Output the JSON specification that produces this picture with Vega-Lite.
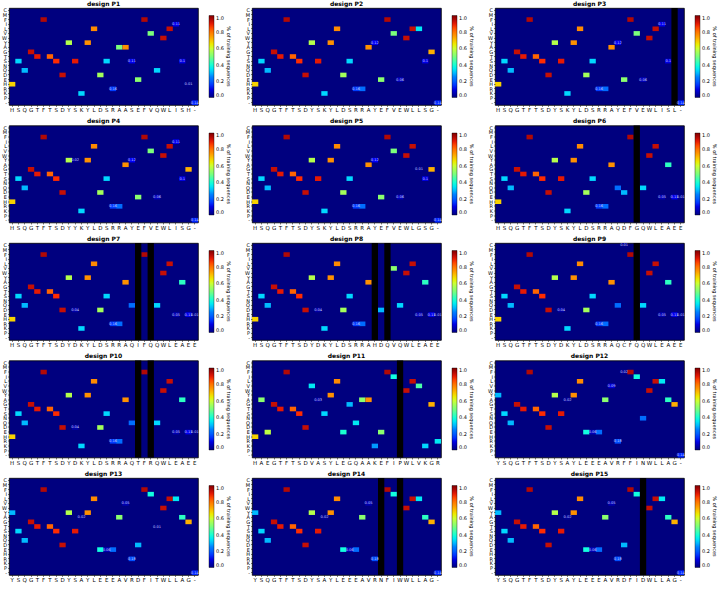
{
"$schema":"https://vega.github.io/schema/vega-lite/v6.json",
"padding":{"left":1,"top":0,"right":0,"bottom":0},
"data":{"values":[
{"p":"P1","s":"00H","aa":"H","v":0.68},{"p":"P1","s":"01S","aa":"S","v":0.33},{"p":"P1","s":"02Q","aa":"Q","v":0.3},{"p":"P1","s":"03G","aa":"G","v":0.93},{"p":"P1","s":"04T","aa":"T","v":0.9},{"p":"P1","s":"05F","aa":"F","v":0.95},{"p":"P1","s":"06T","aa":"T","v":0.82},{"p":"P1","s":"07S","aa":"S","v":0.87},{"p":"P1","s":"08D","aa":"D","v":0.93},{"p":"P1","s":"09Y","aa":"Y","v":0.57},{"p":"P1","s":"10S","aa":"S","v":0.9},{"p":"P1","s":"11K","aa":"K","v":0.33},{"p":"P1","s":"12Y","aa":"Y","v":0.76},{"p":"P1","s":"13L","aa":"L","v":0.77},{"p":"P1","s":"14D","aa":"D","v":0.55},{"p":"P1","s":"15S","aa":"S","v":0.33},
{"p":"P1","s":"16R","aa":"R","v":0.16},{"p":"P1","s":"17A","aa":"A","v":0.5},{"p":"P1","s":"18A","aa":"A","v":0.76},{"p":"P1","s":"19S","aa":"S","v":0.11},{"p":"P1","s":"20E","aa":"E","v":0.52},{"p":"P1","s":"21F","aa":"F","v":0.95},{"p":"P1","s":"22V","aa":"V","v":0.5},{"p":"P1","s":"23Q","aa":"Q","v":0.33},{"p":"P1","s":"24W","aa":"W","v":0.93},{"p":"P1","s":"25L","aa":"L","v":0.93},{"p":"P1","s":"26I","aa":"I","v":0.11},{"p":"P1","s":"27S","aa":"S","v":0.1},{"p":"P1","s":"28H","aa":"H","v":0.01},{"p":"P1","s":"29-","aa":"-","v":0.14},
{"p":"P2","s":"00H","aa":"H","v":0.68},{"p":"P2","s":"01S","aa":"S","v":0.33},{"p":"P2","s":"02Q","aa":"Q","v":0.3},{"p":"P2","s":"03G","aa":"G","v":0.93},{"p":"P2","s":"04T","aa":"T","v":0.9},{"p":"P2","s":"05F","aa":"F","v":0.95},{"p":"P2","s":"06T","aa":"T","v":0.82},{"p":"P2","s":"07S","aa":"S","v":0.87},{"p":"P2","s":"08D","aa":"D","v":0.93},{"p":"P2","s":"09Y","aa":"Y","v":0.57},{"p":"P2","s":"10S","aa":"S","v":0.9},{"p":"P2","s":"11K","aa":"K","v":0.33},{"p":"P2","s":"12Y","aa":"Y","v":0.76},{"p":"P2","s":"13L","aa":"L","v":0.77},{"p":"P2","s":"14D","aa":"D","v":0.55},{"p":"P2","s":"15S","aa":"S","v":0.33},
{"p":"P2","s":"16R","aa":"R","v":0.16},{"p":"P2","s":"17R","aa":"R","v":0.22},{"p":"P2","s":"18A","aa":"A","v":0.76},{"p":"P2","s":"19Y","aa":"Y","v":0.12},{"p":"P2","s":"20E","aa":"E","v":0.52},{"p":"P2","s":"21F","aa":"F","v":0.95},{"p":"P2","s":"22V","aa":"V","v":0.5},{"p":"P2","s":"23E","aa":"E","v":0.06},{"p":"P2","s":"24W","aa":"W","v":0.93},{"p":"P2","s":"25L","aa":"L","v":0.93},{"p":"P2","s":"26L","aa":"L","v":0.35},{"p":"P2","s":"27S","aa":"S","v":0.1},{"p":"P2","s":"28G","aa":"G","v":0.72},{"p":"P2","s":"29-","aa":"-","v":0.14},
{"p":"P3","s":"00H","aa":"H","v":0.68},{"p":"P3","s":"01S","aa":"S","v":0.33},{"p":"P3","s":"02Q","aa":"Q","v":0.3},{"p":"P3","s":"03G","aa":"G","v":0.93},{"p":"P3","s":"04T","aa":"T","v":0.9},{"p":"P3","s":"05F","aa":"F","v":0.95},{"p":"P3","s":"06T","aa":"T","v":0.82},{"p":"P3","s":"07S","aa":"S","v":0.87},{"p":"P3","s":"08D","aa":"D","v":0.93},{"p":"P3","s":"09Y","aa":"Y","v":0.57},{"p":"P3","s":"10S","aa":"S","v":0.9},{"p":"P3","s":"11K","aa":"K","v":0.33},{"p":"P3","s":"12Y","aa":"Y","v":0.76},{"p":"P3","s":"13L","aa":"L","v":0.77},{"p":"P3","s":"14D","aa":"D","v":0.55},{"p":"P3","s":"15S","aa":"S","v":0.33},
{"p":"P3","s":"16R","aa":"R","v":0.16},{"p":"P3","s":"17R","aa":"R","v":0.22},{"p":"P3","s":"18A","aa":"A","v":0.76},{"p":"P3","s":"19Y","aa":"Y","v":0.12},{"p":"P3","s":"20E","aa":"E","v":0.52},{"p":"P3","s":"21F","aa":"F","v":0.95},{"p":"P3","s":"22V","aa":"V","v":0.5},{"p":"P3","s":"23E","aa":"E","v":0.06},{"p":"P3","s":"24W","aa":"W","v":0.93},{"p":"P3","s":"25L","aa":"L","v":0.93},{"p":"P3","s":"26I","aa":"I","v":0.11},{"p":"P3","s":"27S","aa":"S","v":0.1},{"p":"P3","s":"28L","aa":"L","v":null},{"p":"P3","s":"29-","aa":"-","v":0.14},
{"p":"P4","s":"00H","aa":"H","v":0.68},{"p":"P4","s":"01S","aa":"S","v":0.33},{"p":"P4","s":"02Q","aa":"Q","v":0.3},{"p":"P4","s":"03G","aa":"G","v":0.93},{"p":"P4","s":"04T","aa":"T","v":0.9},{"p":"P4","s":"05F","aa":"F","v":0.95},{"p":"P4","s":"06T","aa":"T","v":0.82},{"p":"P4","s":"07S","aa":"S","v":0.87},{"p":"P4","s":"08D","aa":"D","v":0.93},{"p":"P4","s":"09Y","aa":"Y","v":0.57},{"p":"P4","s":"10Y","aa":"Y","v":0.02},{"p":"P4","s":"11K","aa":"K","v":0.33},{"p":"P4","s":"12Y","aa":"Y","v":0.76},{"p":"P4","s":"13L","aa":"L","v":0.77},{"p":"P4","s":"14D","aa":"D","v":0.55},{"p":"P4","s":"15S","aa":"S","v":0.33},
{"p":"P4","s":"16R","aa":"R","v":0.16},{"p":"P4","s":"17R","aa":"R","v":0.22},{"p":"P4","s":"18A","aa":"A","v":0.76},{"p":"P4","s":"19Y","aa":"Y","v":0.12},{"p":"P4","s":"20E","aa":"E","v":0.52},{"p":"P4","s":"21F","aa":"F","v":0.95},{"p":"P4","s":"22V","aa":"V","v":0.5},{"p":"P4","s":"23E","aa":"E","v":0.06},{"p":"P4","s":"24W","aa":"W","v":0.93},{"p":"P4","s":"25L","aa":"L","v":0.93},{"p":"P4","s":"26I","aa":"I","v":0.11},{"p":"P4","s":"27S","aa":"S","v":0.1},{"p":"P4","s":"28G","aa":"G","v":0.72},{"p":"P4","s":"29-","aa":"-","v":0.14},
{"p":"P5","s":"00H","aa":"H","v":0.68},{"p":"P5","s":"01S","aa":"S","v":0.33},{"p":"P5","s":"02Q","aa":"Q","v":0.3},{"p":"P5","s":"03G","aa":"G","v":0.93},{"p":"P5","s":"04T","aa":"T","v":0.9},{"p":"P5","s":"05F","aa":"F","v":0.95},{"p":"P5","s":"06T","aa":"T","v":0.82},{"p":"P5","s":"07S","aa":"S","v":0.87},{"p":"P5","s":"08D","aa":"D","v":0.93},{"p":"P5","s":"09Y","aa":"Y","v":0.57},{"p":"P5","s":"10S","aa":"S","v":0.9},{"p":"P5","s":"11K","aa":"K","v":0.33},{"p":"P5","s":"12Y","aa":"Y","v":0.76},{"p":"P5","s":"13L","aa":"L","v":0.77},{"p":"P5","s":"14D","aa":"D","v":0.55},{"p":"P5","s":"15S","aa":"S","v":0.33},
{"p":"P5","s":"16R","aa":"R","v":0.16},{"p":"P5","s":"17R","aa":"R","v":0.22},{"p":"P5","s":"18A","aa":"A","v":0.76},{"p":"P5","s":"19Y","aa":"Y","v":0.12},{"p":"P5","s":"20E","aa":"E","v":0.52},{"p":"P5","s":"21F","aa":"F","v":0.95},{"p":"P5","s":"22V","aa":"V","v":0.5},{"p":"P5","s":"23E","aa":"E","v":0.06},{"p":"P5","s":"24W","aa":"W","v":0.93},{"p":"P5","s":"25L","aa":"L","v":0.93},{"p":"P5","s":"26G","aa":"G","v":0.01},{"p":"P5","s":"27S","aa":"S","v":0.1},{"p":"P5","s":"28G","aa":"G","v":0.72},{"p":"P5","s":"29-","aa":"-","v":0.14},
{"p":"P6","s":"00H","aa":"H","v":0.68},{"p":"P6","s":"01S","aa":"S","v":0.33},{"p":"P6","s":"02Q","aa":"Q","v":0.3},{"p":"P6","s":"03G","aa":"G","v":0.93},{"p":"P6","s":"04T","aa":"T","v":0.9},{"p":"P6","s":"05F","aa":"F","v":0.95},{"p":"P6","s":"06T","aa":"T","v":0.82},{"p":"P6","s":"07S","aa":"S","v":0.87},{"p":"P6","s":"08D","aa":"D","v":0.93},{"p":"P6","s":"09Y","aa":"Y","v":0.57},{"p":"P6","s":"10S","aa":"S","v":0.9},{"p":"P6","s":"11K","aa":"K","v":0.33},{"p":"P6","s":"12Y","aa":"Y","v":0.76},{"p":"P6","s":"13L","aa":"L","v":0.77},{"p":"P6","s":"14D","aa":"D","v":0.55},{"p":"P6","s":"15S","aa":"S","v":0.33},
{"p":"P6","s":"16R","aa":"R","v":0.16},{"p":"P6","s":"17R","aa":"R","v":0.22},{"p":"P6","s":"18A","aa":"A","v":0.76},{"p":"P6","s":"19Q","aa":"Q","v":0.22},{"p":"P6","s":"20D","aa":"D","v":0.3},{"p":"P6","s":"21F","aa":"F","v":0.95},{"p":"P6","s":"22G","aa":"G","v":null},{"p":"P6","s":"23Q","aa":"Q","v":0.33},{"p":"P6","s":"24W","aa":"W","v":0.93},{"p":"P6","s":"25L","aa":"L","v":0.93},{"p":"P6","s":"26E","aa":"E","v":0.05},{"p":"P6","s":"27A","aa":"A","v":0.42},{"p":"P6","s":"28E","aa":"E","v":0.11},{"p":"P6","s":"29E","aa":"E","v":0.01},
{"p":"P7","s":"00H","aa":"H","v":0.68},{"p":"P7","s":"01S","aa":"S","v":0.33},{"p":"P7","s":"02Q","aa":"Q","v":0.3},{"p":"P7","s":"03G","aa":"G","v":0.93},{"p":"P7","s":"04T","aa":"T","v":0.9},{"p":"P7","s":"05F","aa":"F","v":0.95},{"p":"P7","s":"06T","aa":"T","v":0.82},{"p":"P7","s":"07S","aa":"S","v":0.87},{"p":"P7","s":"08D","aa":"D","v":0.93},{"p":"P7","s":"09Y","aa":"Y","v":0.57},{"p":"P7","s":"10D","aa":"D","v":0.04},{"p":"P7","s":"11K","aa":"K","v":0.33},{"p":"P7","s":"12Y","aa":"Y","v":0.76},{"p":"P7","s":"13L","aa":"L","v":0.77},{"p":"P7","s":"14D","aa":"D","v":0.55},{"p":"P7","s":"15S","aa":"S","v":0.33},
{"p":"P7","s":"16R","aa":"R","v":0.16},{"p":"P7","s":"17R","aa":"R","v":0.22},{"p":"P7","s":"18A","aa":"A","v":0.76},{"p":"P7","s":"19Q","aa":"Q","v":0.22},{"p":"P7","s":"20I","aa":"I","v":null},{"p":"P7","s":"21F","aa":"F","v":0.95},{"p":"P7","s":"22Q","aa":"Q","v":null},{"p":"P7","s":"23Q","aa":"Q","v":0.33},{"p":"P7","s":"24W","aa":"W","v":0.93},{"p":"P7","s":"25L","aa":"L","v":0.93},{"p":"P7","s":"26E","aa":"E","v":0.05},{"p":"P7","s":"27A","aa":"A","v":0.42},{"p":"P7","s":"28E","aa":"E","v":0.11},{"p":"P7","s":"29E","aa":"E","v":0.01},
{"p":"P8","s":"00H","aa":"H","v":0.68},{"p":"P8","s":"01S","aa":"S","v":0.33},{"p":"P8","s":"02Q","aa":"Q","v":0.3},{"p":"P8","s":"03G","aa":"G","v":0.93},{"p":"P8","s":"04T","aa":"T","v":0.9},{"p":"P8","s":"05F","aa":"F","v":0.95},{"p":"P8","s":"06T","aa":"T","v":0.82},{"p":"P8","s":"07S","aa":"S","v":0.87},{"p":"P8","s":"08D","aa":"D","v":0.93},{"p":"P8","s":"09Y","aa":"Y","v":0.57},{"p":"P8","s":"10D","aa":"D","v":0.04},{"p":"P8","s":"11K","aa":"K","v":0.33},{"p":"P8","s":"12Y","aa":"Y","v":0.76},{"p":"P8","s":"13L","aa":"L","v":0.77},{"p":"P8","s":"14D","aa":"D","v":0.55},{"p":"P8","s":"15S","aa":"S","v":0.33},
{"p":"P8","s":"16R","aa":"R","v":0.16},{"p":"P8","s":"17R","aa":"R","v":0.22},{"p":"P8","s":"18A","aa":"A","v":0.76},{"p":"P8","s":"19H","aa":"H","v":null},{"p":"P8","s":"20D","aa":"D","v":0.3},{"p":"P8","s":"21Q","aa":"Q","v":null},{"p":"P8","s":"22V","aa":"V","v":0.52},{"p":"P8","s":"23Q","aa":"Q","v":0.33},{"p":"P8","s":"24W","aa":"W","v":0.93},{"p":"P8","s":"25L","aa":"L","v":0.93},{"p":"P8","s":"26E","aa":"E","v":0.05},{"p":"P8","s":"27A","aa":"A","v":0.42},{"p":"P8","s":"28E","aa":"E","v":0.11},{"p":"P8","s":"29E","aa":"E","v":0.01},
{"p":"P9","s":"00H","aa":"H","v":0.68},{"p":"P9","s":"01S","aa":"S","v":0.33},{"p":"P9","s":"02Q","aa":"Q","v":0.3},{"p":"P9","s":"03G","aa":"G","v":0.93},{"p":"P9","s":"04T","aa":"T","v":0.9},{"p":"P9","s":"05F","aa":"F","v":0.95},{"p":"P9","s":"06T","aa":"T","v":0.82},{"p":"P9","s":"07S","aa":"S","v":0.87},{"p":"P9","s":"08D","aa":"D","v":0.93},{"p":"P9","s":"09Y","aa":"Y","v":0.57},{"p":"P9","s":"10D","aa":"D","v":0.04},{"p":"P9","s":"11K","aa":"K","v":0.33},{"p":"P9","s":"12Y","aa":"Y","v":0.76},{"p":"P9","s":"13L","aa":"L","v":0.77},{"p":"P9","s":"14D","aa":"D","v":0.55},{"p":"P9","s":"15S","aa":"S","v":0.33},
{"p":"P9","s":"16R","aa":"R","v":0.16},{"p":"P9","s":"17R","aa":"R","v":0.22},{"p":"P9","s":"18A","aa":"A","v":0.76},{"p":"P9","s":"19Q","aa":"Q","v":0.22},{"p":"P9","s":"20C","aa":"C","v":0.01},{"p":"P9","s":"21F","aa":"F","v":0.95},{"p":"P9","s":"22Q","aa":"Q","v":null},{"p":"P9","s":"23Q","aa":"Q","v":0.33},{"p":"P9","s":"24W","aa":"W","v":0.93},{"p":"P9","s":"25L","aa":"L","v":0.93},{"p":"P9","s":"26E","aa":"E","v":0.05},{"p":"P9","s":"27A","aa":"A","v":0.42},{"p":"P9","s":"28E","aa":"E","v":0.11},{"p":"P9","s":"29E","aa":"E","v":0.01},
{"p":"P10","s":"00H","aa":"H","v":0.68},{"p":"P10","s":"01S","aa":"S","v":0.33},{"p":"P10","s":"02Q","aa":"Q","v":0.3},{"p":"P10","s":"03G","aa":"G","v":0.93},{"p":"P10","s":"04T","aa":"T","v":0.9},{"p":"P10","s":"05F","aa":"F","v":0.95},{"p":"P10","s":"06T","aa":"T","v":0.82},{"p":"P10","s":"07S","aa":"S","v":0.87},{"p":"P10","s":"08D","aa":"D","v":0.93},{"p":"P10","s":"09Y","aa":"Y","v":0.57},{"p":"P10","s":"10D","aa":"D","v":0.04},{"p":"P10","s":"11K","aa":"K","v":0.33},{"p":"P10","s":"12Y","aa":"Y","v":0.76},{"p":"P10","s":"13L","aa":"L","v":0.77},{"p":"P10","s":"14D","aa":"D","v":0.55},{"p":"P10","s":"15S","aa":"S","v":0.33},
{"p":"P10","s":"16R","aa":"R","v":0.16},{"p":"P10","s":"17R","aa":"R","v":0.22},{"p":"P10","s":"18A","aa":"A","v":0.76},{"p":"P10","s":"19Q","aa":"Q","v":0.22},{"p":"P10","s":"20T","aa":"T","v":null},{"p":"P10","s":"21F","aa":"F","v":0.95},{"p":"P10","s":"22R","aa":"R","v":null},{"p":"P10","s":"23Q","aa":"Q","v":0.33},{"p":"P10","s":"24W","aa":"W","v":0.93},{"p":"P10","s":"25L","aa":"L","v":0.93},{"p":"P10","s":"26E","aa":"E","v":0.05},{"p":"P10","s":"27A","aa":"A","v":0.42},{"p":"P10","s":"28E","aa":"E","v":0.11},{"p":"P10","s":"29E","aa":"E","v":0.01},
{"p":"P11","s":"00H","aa":"H","v":0.68},{"p":"P11","s":"01A","aa":"A","v":0.52},{"p":"P11","s":"02E","aa":"E","v":0.58},{"p":"P11","s":"03G","aa":"G","v":0.93},{"p":"P11","s":"04T","aa":"T","v":0.9},{"p":"P11","s":"05F","aa":"F","v":0.95},{"p":"P11","s":"06T","aa":"T","v":0.82},{"p":"P11","s":"07S","aa":"S","v":0.87},{"p":"P11","s":"08D","aa":"D","v":0.93},{"p":"P11","s":"09V","aa":"V","v":0.35},{"p":"P11","s":"10A","aa":"A","v":0.03},{"p":"P11","s":"11S","aa":"S","v":0.33},{"p":"P11","s":"12Y","aa":"Y","v":0.76},{"p":"P11","s":"13L","aa":"L","v":0.77},{"p":"P11","s":"14E","aa":"E","v":0.4},{"p":"P11","s":"15G","aa":"G","v":0.3},
{"p":"P11","s":"16Q","aa":"Q","v":0.35},{"p":"P11","s":"17A","aa":"A","v":0.52},{"p":"P11","s":"18A","aa":"A","v":0.76},{"p":"P11","s":"19K","aa":"K","v":0.27},{"p":"P11","s":"20E","aa":"E","v":0.52},{"p":"P11","s":"21F","aa":"F","v":0.95},{"p":"P11","s":"22I","aa":"I","v":0.38},{"p":"P11","s":"23P","aa":"P","v":null},{"p":"P11","s":"24W","aa":"W","v":0.93},{"p":"P11","s":"25L","aa":"L","v":0.93},{"p":"P11","s":"26V","aa":"V","v":0.45},{"p":"P11","s":"27K","aa":"K","v":0.33},{"p":"P11","s":"28G","aa":"G","v":0.72},{"p":"P11","s":"29R","aa":"R","v":0.35},
{"p":"P12","s":"00Y","aa":"Y","v":0.3},{"p":"P12","s":"01S","aa":"S","v":0.33},{"p":"P12","s":"02Q","aa":"Q","v":0.3},{"p":"P12","s":"03G","aa":"G","v":0.93},{"p":"P12","s":"04T","aa":"T","v":0.9},{"p":"P12","s":"05F","aa":"F","v":0.95},{"p":"P12","s":"06T","aa":"T","v":0.82},{"p":"P12","s":"07S","aa":"S","v":0.87},{"p":"P12","s":"08D","aa":"D","v":0.93},{"p":"P12","s":"09Y","aa":"Y","v":0.57},{"p":"P12","s":"10S","aa":"S","v":0.9},{"p":"P12","s":"11A","aa":"A","v":0.02},{"p":"P12","s":"12Y","aa":"Y","v":0.76},{"p":"P12","s":"13L","aa":"L","v":0.77},{"p":"P12","s":"14E","aa":"E","v":0.38},{"p":"P12","s":"15E","aa":"E","v":0.06},
{"p":"P12","s":"16E","aa":"E","v":0.22},{"p":"P12","s":"17A","aa":"A","v":0.52},{"p":"P12","s":"18V","aa":"V","v":0.09},{"p":"P12","s":"19R","aa":"R","v":0.18},{"p":"P12","s":"20F","aa":"F","v":0.02},{"p":"P12","s":"21F","aa":"F","v":0.95},{"p":"P12","s":"22I","aa":"I","v":0.38},{"p":"P12","s":"23N","aa":"N","v":0.22},{"p":"P12","s":"24W","aa":"W","v":0.93},{"p":"P12","s":"25L","aa":"L","v":0.93},{"p":"P12","s":"26L","aa":"L","v":0.35},{"p":"P12","s":"27A","aa":"A","v":0.42},{"p":"P12","s":"28G","aa":"G","v":0.72},{"p":"P12","s":"29-","aa":"-","v":0.14},
{"p":"P13","s":"00Y","aa":"Y","v":0.3},{"p":"P13","s":"01S","aa":"S","v":0.33},{"p":"P13","s":"02Q","aa":"Q","v":0.3},{"p":"P13","s":"03G","aa":"G","v":0.93},{"p":"P13","s":"04T","aa":"T","v":0.9},{"p":"P13","s":"05F","aa":"F","v":0.95},{"p":"P13","s":"06T","aa":"T","v":0.82},{"p":"P13","s":"07S","aa":"S","v":0.87},{"p":"P13","s":"08D","aa":"D","v":0.93},{"p":"P13","s":"09Y","aa":"Y","v":0.57},{"p":"P13","s":"10S","aa":"S","v":0.9},{"p":"P13","s":"11A","aa":"A","v":0.02},{"p":"P13","s":"12Y","aa":"Y","v":0.76},{"p":"P13","s":"13L","aa":"L","v":0.77},{"p":"P13","s":"14E","aa":"E","v":0.38},{"p":"P13","s":"15E","aa":"E","v":0.06},
{"p":"P13","s":"16E","aa":"E","v":0.22},{"p":"P13","s":"17A","aa":"A","v":0.52},{"p":"P13","s":"18V","aa":"V","v":0.05},{"p":"P13","s":"19R","aa":"R","v":0.18},{"p":"P13","s":"20D","aa":"D","v":0.3},{"p":"P13","s":"21F","aa":"F","v":0.95},{"p":"P13","s":"22I","aa":"I","v":0.38},{"p":"P13","s":"23T","aa":"T","v":0.01},{"p":"P13","s":"24W","aa":"W","v":0.93},{"p":"P13","s":"25L","aa":"L","v":0.93},{"p":"P13","s":"26L","aa":"L","v":0.35},{"p":"P13","s":"27A","aa":"A","v":0.42},{"p":"P13","s":"28G","aa":"G","v":0.72},{"p":"P13","s":"29-","aa":"-","v":0.14},
{"p":"P14","s":"00Y","aa":"Y","v":0.3},{"p":"P14","s":"01S","aa":"S","v":0.33},{"p":"P14","s":"02Q","aa":"Q","v":0.3},{"p":"P14","s":"03G","aa":"G","v":0.93},{"p":"P14","s":"04T","aa":"T","v":0.9},{"p":"P14","s":"05F","aa":"F","v":0.95},{"p":"P14","s":"06T","aa":"T","v":0.82},{"p":"P14","s":"07S","aa":"S","v":0.87},{"p":"P14","s":"08D","aa":"D","v":0.93},{"p":"P14","s":"09Y","aa":"Y","v":0.57},{"p":"P14","s":"10S","aa":"S","v":0.9},{"p":"P14","s":"11A","aa":"A","v":0.02},{"p":"P14","s":"12Y","aa":"Y","v":0.76},{"p":"P14","s":"13L","aa":"L","v":0.77},{"p":"P14","s":"14E","aa":"E","v":0.38},{"p":"P14","s":"15E","aa":"E","v":0.06},
{"p":"P14","s":"16E","aa":"E","v":0.22},{"p":"P14","s":"17A","aa":"A","v":0.52},{"p":"P14","s":"18V","aa":"V","v":0.05},{"p":"P14","s":"19R","aa":"R","v":0.18},{"p":"P14","s":"20N","aa":"N","v":null},{"p":"P14","s":"21F","aa":"F","v":0.95},{"p":"P14","s":"22I","aa":"I","v":0.38},{"p":"P14","s":"23W","aa":"W","v":null},{"p":"P14","s":"24W","aa":"W","v":0.93},{"p":"P14","s":"25L","aa":"L","v":0.93},{"p":"P14","s":"26L","aa":"L","v":0.35},{"p":"P14","s":"27A","aa":"A","v":0.42},{"p":"P14","s":"28G","aa":"G","v":0.72},{"p":"P14","s":"29-","aa":"-","v":0.14},
{"p":"P15","s":"00Y","aa":"Y","v":0.3},{"p":"P15","s":"01S","aa":"S","v":0.33},{"p":"P15","s":"02Q","aa":"Q","v":0.3},{"p":"P15","s":"03G","aa":"G","v":0.93},{"p":"P15","s":"04T","aa":"T","v":0.9},{"p":"P15","s":"05F","aa":"F","v":0.95},{"p":"P15","s":"06T","aa":"T","v":0.82},{"p":"P15","s":"07S","aa":"S","v":0.87},{"p":"P15","s":"08D","aa":"D","v":0.93},{"p":"P15","s":"09Y","aa":"Y","v":0.57},{"p":"P15","s":"10S","aa":"S","v":0.9},{"p":"P15","s":"11A","aa":"A","v":0.02},{"p":"P15","s":"12Y","aa":"Y","v":0.76},{"p":"P15","s":"13L","aa":"L","v":0.77},{"p":"P15","s":"14E","aa":"E","v":0.38},{"p":"P15","s":"15E","aa":"E","v":0.06},
{"p":"P15","s":"16E","aa":"E","v":0.22},{"p":"P15","s":"17A","aa":"A","v":0.52},{"p":"P15","s":"18V","aa":"V","v":0.05},{"p":"P15","s":"19R","aa":"R","v":0.18},{"p":"P15","s":"20D","aa":"D","v":0.3},{"p":"P15","s":"21F","aa":"F","v":0.95},{"p":"P15","s":"22I","aa":"I","v":0.38},{"p":"P15","s":"23D","aa":"D","v":null},{"p":"P15","s":"24W","aa":"W","v":0.93},{"p":"P15","s":"25L","aa":"L","v":0.93},{"p":"P15","s":"26L","aa":"L","v":0.35},{"p":"P15","s":"27A","aa":"A","v":0.42},{"p":"P15","s":"28G","aa":"G","v":0.72},{"p":"P15","s":"29-","aa":"-","v":0.14}
]},
"columns":3,
"spacing":{"row":3.5,"column":12},
"resolve":{"scale":{"x":"independent","y":"independent","color":"independent"}},
"concat":[
{"title":"design P1","width":189,"height":97,"transform":[{"filter":"datum.p=='P1'"}],"encoding":{"x":{"field":"s","type":"ordinal","axis":{"title":null,"labelExpr":"slice(datum.label,2)"}}},"layer":[{"transform":[{"filter":"isValid(datum.v)"}],"mark":"rect","encoding":{"y":{"field":"aa","type":"nominal","scale":{"domain":["C","M","F","I","L","V","W","Y","A","G","T","S","N","Q","D","E","H","R","K","P","-"]},"axis":{"title":null}},"color":{"field":"v","type":"quantitative","scale":{"domain":[0,0.125,0.25,0.375,0.5,0.625,0.75,0.875,1],"range":["#00007f","#0000ff","#0080ff","#14ffe2","#7bff7b","#e2ff14","#ff9700","#ff2100","#800000"]},"legend":{"title":"% of training sequences","orient":"none","legendX":200,"legendY":7.5,"direction":"vertical","values":[0,0.2,0.4,0.6,0.8,1],"format":".1f"}}}},{"transform":[{"filter":"!isValid(datum.v)"}],"mark":{"type":"rect","color":"#000000"}},{"transform":[{"filter":"isValid(datum.v) && datum.v < 0.2"}],"mark":{"type":"text","fontSize":3.6,"color":"#c8ccff"},"encoding":{"y":{"field":"aa","type":"nominal"},"text":{"field":"v","type":"quantitative","format":".2~f"}}}]},
{"title":"design P2","width":189,"height":97,"transform":[{"filter":"datum.p=='P2'"}],"encoding":{"x":{"field":"s","type":"ordinal","axis":{"title":null,"labelExpr":"slice(datum.label,2)"}}},"layer":[{"transform":[{"filter":"isValid(datum.v)"}],"mark":"rect","encoding":{"y":{"field":"aa","type":"nominal","scale":{"domain":["C","M","F","I","L","V","W","Y","A","G","T","S","N","Q","D","E","H","R","K","P","-"]},"axis":{"title":null}},"color":{"field":"v","type":"quantitative","scale":{"domain":[0,0.125,0.25,0.375,0.5,0.625,0.75,0.875,1],"range":["#00007f","#0000ff","#0080ff","#14ffe2","#7bff7b","#e2ff14","#ff9700","#ff2100","#800000"]},"legend":{"title":"% of training sequences","orient":"none","legendX":200,"legendY":7.5,"direction":"vertical","values":[0,0.2,0.4,0.6,0.8,1],"format":".1f"}}}},{"transform":[{"filter":"!isValid(datum.v)"}],"mark":{"type":"rect","color":"#000000"}},{"transform":[{"filter":"isValid(datum.v) && datum.v < 0.2"}],"mark":{"type":"text","fontSize":3.6,"color":"#c8ccff"},"encoding":{"y":{"field":"aa","type":"nominal"},"text":{"field":"v","type":"quantitative","format":".2~f"}}}]},
{"title":"design P3","width":189,"height":97,"transform":[{"filter":"datum.p=='P3'"}],"encoding":{"x":{"field":"s","type":"ordinal","axis":{"title":null,"labelExpr":"slice(datum.label,2)"}}},"layer":[{"transform":[{"filter":"isValid(datum.v)"}],"mark":"rect","encoding":{"y":{"field":"aa","type":"nominal","scale":{"domain":["C","M","F","I","L","V","W","Y","A","G","T","S","N","Q","D","E","H","R","K","P","-"]},"axis":{"title":null}},"color":{"field":"v","type":"quantitative","scale":{"domain":[0,0.125,0.25,0.375,0.5,0.625,0.75,0.875,1],"range":["#00007f","#0000ff","#0080ff","#14ffe2","#7bff7b","#e2ff14","#ff9700","#ff2100","#800000"]},"legend":{"title":"% of training sequences","orient":"none","legendX":200,"legendY":7.5,"direction":"vertical","values":[0,0.2,0.4,0.6,0.8,1],"format":".1f"}}}},{"transform":[{"filter":"!isValid(datum.v)"}],"mark":{"type":"rect","color":"#000000"}},{"transform":[{"filter":"isValid(datum.v) && datum.v < 0.2"}],"mark":{"type":"text","fontSize":3.6,"color":"#c8ccff"},"encoding":{"y":{"field":"aa","type":"nominal"},"text":{"field":"v","type":"quantitative","format":".2~f"}}}]},
{"title":"design P4","width":189,"height":97,"transform":[{"filter":"datum.p=='P4'"}],"encoding":{"x":{"field":"s","type":"ordinal","axis":{"title":null,"labelExpr":"slice(datum.label,2)"}}},"layer":[{"transform":[{"filter":"isValid(datum.v)"}],"mark":"rect","encoding":{"y":{"field":"aa","type":"nominal","scale":{"domain":["C","M","F","I","L","V","W","Y","A","G","T","S","N","Q","D","E","H","R","K","P","-"]},"axis":{"title":null}},"color":{"field":"v","type":"quantitative","scale":{"domain":[0,0.125,0.25,0.375,0.5,0.625,0.75,0.875,1],"range":["#00007f","#0000ff","#0080ff","#14ffe2","#7bff7b","#e2ff14","#ff9700","#ff2100","#800000"]},"legend":{"title":"% of training sequences","orient":"none","legendX":200,"legendY":7.5,"direction":"vertical","values":[0,0.2,0.4,0.6,0.8,1],"format":".1f"}}}},{"transform":[{"filter":"!isValid(datum.v)"}],"mark":{"type":"rect","color":"#000000"}},{"transform":[{"filter":"isValid(datum.v) && datum.v < 0.2"}],"mark":{"type":"text","fontSize":3.6,"color":"#c8ccff"},"encoding":{"y":{"field":"aa","type":"nominal"},"text":{"field":"v","type":"quantitative","format":".2~f"}}}]},
{"title":"design P5","width":189,"height":97,"transform":[{"filter":"datum.p=='P5'"}],"encoding":{"x":{"field":"s","type":"ordinal","axis":{"title":null,"labelExpr":"slice(datum.label,2)"}}},"layer":[{"transform":[{"filter":"isValid(datum.v)"}],"mark":"rect","encoding":{"y":{"field":"aa","type":"nominal","scale":{"domain":["C","M","F","I","L","V","W","Y","A","G","T","S","N","Q","D","E","H","R","K","P","-"]},"axis":{"title":null}},"color":{"field":"v","type":"quantitative","scale":{"domain":[0,0.125,0.25,0.375,0.5,0.625,0.75,0.875,1],"range":["#00007f","#0000ff","#0080ff","#14ffe2","#7bff7b","#e2ff14","#ff9700","#ff2100","#800000"]},"legend":{"title":"% of training sequences","orient":"none","legendX":200,"legendY":7.5,"direction":"vertical","values":[0,0.2,0.4,0.6,0.8,1],"format":".1f"}}}},{"transform":[{"filter":"!isValid(datum.v)"}],"mark":{"type":"rect","color":"#000000"}},{"transform":[{"filter":"isValid(datum.v) && datum.v < 0.2"}],"mark":{"type":"text","fontSize":3.6,"color":"#c8ccff"},"encoding":{"y":{"field":"aa","type":"nominal"},"text":{"field":"v","type":"quantitative","format":".2~f"}}}]},
{"title":"design P6","width":189,"height":97,"transform":[{"filter":"datum.p=='P6'"}],"encoding":{"x":{"field":"s","type":"ordinal","axis":{"title":null,"labelExpr":"slice(datum.label,2)"}}},"layer":[{"transform":[{"filter":"isValid(datum.v)"}],"mark":"rect","encoding":{"y":{"field":"aa","type":"nominal","scale":{"domain":["C","M","F","I","L","V","W","Y","A","G","T","S","N","Q","D","E","H","R","K","P","-"]},"axis":{"title":null}},"color":{"field":"v","type":"quantitative","scale":{"domain":[0,0.125,0.25,0.375,0.5,0.625,0.75,0.875,1],"range":["#00007f","#0000ff","#0080ff","#14ffe2","#7bff7b","#e2ff14","#ff9700","#ff2100","#800000"]},"legend":{"title":"% of training sequences","orient":"none","legendX":200,"legendY":7.5,"direction":"vertical","values":[0,0.2,0.4,0.6,0.8,1],"format":".1f"}}}},{"transform":[{"filter":"!isValid(datum.v)"}],"mark":{"type":"rect","color":"#000000"}},{"transform":[{"filter":"isValid(datum.v) && datum.v < 0.2"}],"mark":{"type":"text","fontSize":3.6,"color":"#c8ccff"},"encoding":{"y":{"field":"aa","type":"nominal"},"text":{"field":"v","type":"quantitative","format":".2~f"}}}]},
{"title":"design P7","width":189,"height":97,"transform":[{"filter":"datum.p=='P7'"}],"encoding":{"x":{"field":"s","type":"ordinal","axis":{"title":null,"labelExpr":"slice(datum.label,2)"}}},"layer":[{"transform":[{"filter":"isValid(datum.v)"}],"mark":"rect","encoding":{"y":{"field":"aa","type":"nominal","scale":{"domain":["C","M","F","I","L","V","W","Y","A","G","T","S","N","Q","D","E","H","R","K","P","-"]},"axis":{"title":null}},"color":{"field":"v","type":"quantitative","scale":{"domain":[0,0.125,0.25,0.375,0.5,0.625,0.75,0.875,1],"range":["#00007f","#0000ff","#0080ff","#14ffe2","#7bff7b","#e2ff14","#ff9700","#ff2100","#800000"]},"legend":{"title":"% of training sequences","orient":"none","legendX":200,"legendY":7.5,"direction":"vertical","values":[0,0.2,0.4,0.6,0.8,1],"format":".1f"}}}},{"transform":[{"filter":"!isValid(datum.v)"}],"mark":{"type":"rect","color":"#000000"}},{"transform":[{"filter":"isValid(datum.v) && datum.v < 0.2"}],"mark":{"type":"text","fontSize":3.6,"color":"#c8ccff"},"encoding":{"y":{"field":"aa","type":"nominal"},"text":{"field":"v","type":"quantitative","format":".2~f"}}}]},
{"title":"design P8","width":189,"height":97,"transform":[{"filter":"datum.p=='P8'"}],"encoding":{"x":{"field":"s","type":"ordinal","axis":{"title":null,"labelExpr":"slice(datum.label,2)"}}},"layer":[{"transform":[{"filter":"isValid(datum.v)"}],"mark":"rect","encoding":{"y":{"field":"aa","type":"nominal","scale":{"domain":["C","M","F","I","L","V","W","Y","A","G","T","S","N","Q","D","E","H","R","K","P","-"]},"axis":{"title":null}},"color":{"field":"v","type":"quantitative","scale":{"domain":[0,0.125,0.25,0.375,0.5,0.625,0.75,0.875,1],"range":["#00007f","#0000ff","#0080ff","#14ffe2","#7bff7b","#e2ff14","#ff9700","#ff2100","#800000"]},"legend":{"title":"% of training sequences","orient":"none","legendX":200,"legendY":7.5,"direction":"vertical","values":[0,0.2,0.4,0.6,0.8,1],"format":".1f"}}}},{"transform":[{"filter":"!isValid(datum.v)"}],"mark":{"type":"rect","color":"#000000"}},{"transform":[{"filter":"isValid(datum.v) && datum.v < 0.2"}],"mark":{"type":"text","fontSize":3.6,"color":"#c8ccff"},"encoding":{"y":{"field":"aa","type":"nominal"},"text":{"field":"v","type":"quantitative","format":".2~f"}}}]},
{"title":"design P9","width":189,"height":97,"transform":[{"filter":"datum.p=='P9'"}],"encoding":{"x":{"field":"s","type":"ordinal","axis":{"title":null,"labelExpr":"slice(datum.label,2)"}}},"layer":[{"transform":[{"filter":"isValid(datum.v)"}],"mark":"rect","encoding":{"y":{"field":"aa","type":"nominal","scale":{"domain":["C","M","F","I","L","V","W","Y","A","G","T","S","N","Q","D","E","H","R","K","P","-"]},"axis":{"title":null}},"color":{"field":"v","type":"quantitative","scale":{"domain":[0,0.125,0.25,0.375,0.5,0.625,0.75,0.875,1],"range":["#00007f","#0000ff","#0080ff","#14ffe2","#7bff7b","#e2ff14","#ff9700","#ff2100","#800000"]},"legend":{"title":"% of training sequences","orient":"none","legendX":200,"legendY":7.5,"direction":"vertical","values":[0,0.2,0.4,0.6,0.8,1],"format":".1f"}}}},{"transform":[{"filter":"!isValid(datum.v)"}],"mark":{"type":"rect","color":"#000000"}},{"transform":[{"filter":"isValid(datum.v) && datum.v < 0.2"}],"mark":{"type":"text","fontSize":3.6,"color":"#c8ccff"},"encoding":{"y":{"field":"aa","type":"nominal"},"text":{"field":"v","type":"quantitative","format":".2~f"}}}]},
{"title":"design P10","width":189,"height":97,"transform":[{"filter":"datum.p=='P10'"}],"encoding":{"x":{"field":"s","type":"ordinal","axis":{"title":null,"labelExpr":"slice(datum.label,2)"}}},"layer":[{"transform":[{"filter":"isValid(datum.v)"}],"mark":"rect","encoding":{"y":{"field":"aa","type":"nominal","scale":{"domain":["C","M","F","I","L","V","W","Y","A","G","T","S","N","Q","D","E","H","R","K","P","-"]},"axis":{"title":null}},"color":{"field":"v","type":"quantitative","scale":{"domain":[0,0.125,0.25,0.375,0.5,0.625,0.75,0.875,1],"range":["#00007f","#0000ff","#0080ff","#14ffe2","#7bff7b","#e2ff14","#ff9700","#ff2100","#800000"]},"legend":{"title":"% of training sequences","orient":"none","legendX":200,"legendY":7.5,"direction":"vertical","values":[0,0.2,0.4,0.6,0.8,1],"format":".1f"}}}},{"transform":[{"filter":"!isValid(datum.v)"}],"mark":{"type":"rect","color":"#000000"}},{"transform":[{"filter":"isValid(datum.v) && datum.v < 0.2"}],"mark":{"type":"text","fontSize":3.6,"color":"#c8ccff"},"encoding":{"y":{"field":"aa","type":"nominal"},"text":{"field":"v","type":"quantitative","format":".2~f"}}}]},
{"title":"design P11","width":189,"height":97,"transform":[{"filter":"datum.p=='P11'"}],"encoding":{"x":{"field":"s","type":"ordinal","axis":{"title":null,"labelExpr":"slice(datum.label,2)"}}},"layer":[{"transform":[{"filter":"isValid(datum.v)"}],"mark":"rect","encoding":{"y":{"field":"aa","type":"nominal","scale":{"domain":["C","M","F","I","L","V","W","Y","A","G","T","S","N","Q","D","E","H","R","K","P","-"]},"axis":{"title":null}},"color":{"field":"v","type":"quantitative","scale":{"domain":[0,0.125,0.25,0.375,0.5,0.625,0.75,0.875,1],"range":["#00007f","#0000ff","#0080ff","#14ffe2","#7bff7b","#e2ff14","#ff9700","#ff2100","#800000"]},"legend":{"title":"% of training sequences","orient":"none","legendX":200,"legendY":7.5,"direction":"vertical","values":[0,0.2,0.4,0.6,0.8,1],"format":".1f"}}}},{"transform":[{"filter":"!isValid(datum.v)"}],"mark":{"type":"rect","color":"#000000"}},{"transform":[{"filter":"isValid(datum.v) && datum.v < 0.2"}],"mark":{"type":"text","fontSize":3.6,"color":"#c8ccff"},"encoding":{"y":{"field":"aa","type":"nominal"},"text":{"field":"v","type":"quantitative","format":".2~f"}}}]},
{"title":"design P12","width":189,"height":97,"transform":[{"filter":"datum.p=='P12'"}],"encoding":{"x":{"field":"s","type":"ordinal","axis":{"title":null,"labelExpr":"slice(datum.label,2)"}}},"layer":[{"transform":[{"filter":"isValid(datum.v)"}],"mark":"rect","encoding":{"y":{"field":"aa","type":"nominal","scale":{"domain":["C","M","F","I","L","V","W","Y","A","G","T","S","N","Q","D","E","H","R","K","P","-"]},"axis":{"title":null}},"color":{"field":"v","type":"quantitative","scale":{"domain":[0,0.125,0.25,0.375,0.5,0.625,0.75,0.875,1],"range":["#00007f","#0000ff","#0080ff","#14ffe2","#7bff7b","#e2ff14","#ff9700","#ff2100","#800000"]},"legend":{"title":"% of training sequences","orient":"none","legendX":200,"legendY":7.5,"direction":"vertical","values":[0,0.2,0.4,0.6,0.8,1],"format":".1f"}}}},{"transform":[{"filter":"!isValid(datum.v)"}],"mark":{"type":"rect","color":"#000000"}},{"transform":[{"filter":"isValid(datum.v) && datum.v < 0.2"}],"mark":{"type":"text","fontSize":3.6,"color":"#c8ccff"},"encoding":{"y":{"field":"aa","type":"nominal"},"text":{"field":"v","type":"quantitative","format":".2~f"}}}]},
{"title":"design P13","width":189,"height":97,"transform":[{"filter":"datum.p=='P13'"}],"encoding":{"x":{"field":"s","type":"ordinal","axis":{"title":null,"labelExpr":"slice(datum.label,2)"}}},"layer":[{"transform":[{"filter":"isValid(datum.v)"}],"mark":"rect","encoding":{"y":{"field":"aa","type":"nominal","scale":{"domain":["C","M","F","I","L","V","W","Y","A","G","T","S","N","Q","D","E","H","R","K","P","-"]},"axis":{"title":null}},"color":{"field":"v","type":"quantitative","scale":{"domain":[0,0.125,0.25,0.375,0.5,0.625,0.75,0.875,1],"range":["#00007f","#0000ff","#0080ff","#14ffe2","#7bff7b","#e2ff14","#ff9700","#ff2100","#800000"]},"legend":{"title":"% of training sequences","orient":"none","legendX":200,"legendY":7.5,"direction":"vertical","values":[0,0.2,0.4,0.6,0.8,1],"format":".1f"}}}},{"transform":[{"filter":"!isValid(datum.v)"}],"mark":{"type":"rect","color":"#000000"}},{"transform":[{"filter":"isValid(datum.v) && datum.v < 0.2"}],"mark":{"type":"text","fontSize":3.6,"color":"#c8ccff"},"encoding":{"y":{"field":"aa","type":"nominal"},"text":{"field":"v","type":"quantitative","format":".2~f"}}}]},
{"title":"design P14","width":189,"height":97,"transform":[{"filter":"datum.p=='P14'"}],"encoding":{"x":{"field":"s","type":"ordinal","axis":{"title":null,"labelExpr":"slice(datum.label,2)"}}},"layer":[{"transform":[{"filter":"isValid(datum.v)"}],"mark":"rect","encoding":{"y":{"field":"aa","type":"nominal","scale":{"domain":["C","M","F","I","L","V","W","Y","A","G","T","S","N","Q","D","E","H","R","K","P","-"]},"axis":{"title":null}},"color":{"field":"v","type":"quantitative","scale":{"domain":[0,0.125,0.25,0.375,0.5,0.625,0.75,0.875,1],"range":["#00007f","#0000ff","#0080ff","#14ffe2","#7bff7b","#e2ff14","#ff9700","#ff2100","#800000"]},"legend":{"title":"% of training sequences","orient":"none","legendX":200,"legendY":7.5,"direction":"vertical","values":[0,0.2,0.4,0.6,0.8,1],"format":".1f"}}}},{"transform":[{"filter":"!isValid(datum.v)"}],"mark":{"type":"rect","color":"#000000"}},{"transform":[{"filter":"isValid(datum.v) && datum.v < 0.2"}],"mark":{"type":"text","fontSize":3.6,"color":"#c8ccff"},"encoding":{"y":{"field":"aa","type":"nominal"},"text":{"field":"v","type":"quantitative","format":".2~f"}}}]},
{"title":"design P15","width":189,"height":97,"transform":[{"filter":"datum.p=='P15'"}],"encoding":{"x":{"field":"s","type":"ordinal","axis":{"title":null,"labelExpr":"slice(datum.label,2)"}}},"layer":[{"transform":[{"filter":"isValid(datum.v)"}],"mark":"rect","encoding":{"y":{"field":"aa","type":"nominal","scale":{"domain":["C","M","F","I","L","V","W","Y","A","G","T","S","N","Q","D","E","H","R","K","P","-"]},"axis":{"title":null}},"color":{"field":"v","type":"quantitative","scale":{"domain":[0,0.125,0.25,0.375,0.5,0.625,0.75,0.875,1],"range":["#00007f","#0000ff","#0080ff","#14ffe2","#7bff7b","#e2ff14","#ff9700","#ff2100","#800000"]},"legend":{"title":"% of training sequences","orient":"none","legendX":200,"legendY":7.5,"direction":"vertical","values":[0,0.2,0.4,0.6,0.8,1],"format":".1f"}}}},{"transform":[{"filter":"!isValid(datum.v)"}],"mark":{"type":"rect","color":"#000000"}},{"transform":[{"filter":"isValid(datum.v) && datum.v < 0.2"}],"mark":{"type":"text","fontSize":3.6,"color":"#c8ccff"},"encoding":{"y":{"field":"aa","type":"nominal"},"text":{"field":"v","type":"quantitative","format":".2~f"}}}]}
],
"config":{
"font":"DejaVu Sans",
"view":{"fill":"#00007f","stroke":"#000000","strokeWidth":0.8},
"title":{"fontSize":6,"fontWeight":"bold","offset":1,"color":"#000000","anchor":"middle"},
"axis":{"labelFontSize":5.5,"labelColor":"#000000","tickSize":1.5,"tickColor":"#000000","tickWidth":0.5,"domain":false,"labelPadding":1,"labelAngle":0,"grid":false},
"axisY":{"labelFontSize":5},
"legend":{"gradientLength":82,"gradientThickness":5,"labelFontSize":5,"labelColor":"#000000","labelOffset":1.5,"titleFontSize":5,"titleFontWeight":"normal","titleColor":"#000000","titleOrient":"right","titleAngle":270,"titleAnchor":"middle","titlePadding":2,"gradientStrokeColor":"#000000","gradientStrokeWidth":0.4,"padding":0}
}
}
